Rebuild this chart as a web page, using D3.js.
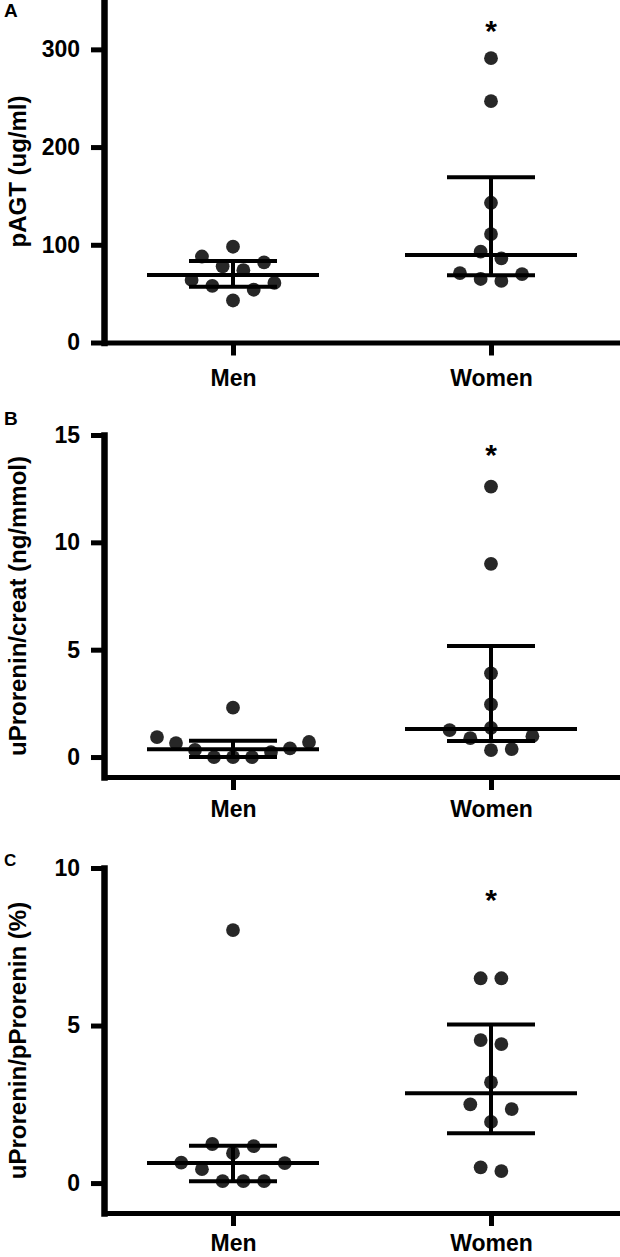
<!DOCTYPE html>
<html>
<head>
<meta charset="utf-8">
<script src="https://cdn.jsdelivr.net/npm/d3@7"></script>
<style>
body { margin: 0; background: #fff; }
text { font-family: "Liberation Sans", Arial, Helvetica, sans-serif; font-weight: bold; fill: #000; }
</style>
</head>
<body>
<script>
// categories and labels
var groups = ["Men", "Women"];
var panelLetters = ["A", "B", "C"];
var yTitles = ["pAGT (ug/ml)", "uProrenin/creat (ng/mmol)", "uProrenin/pProrenin (%)"];

// values
var pagtMen = [98, 88, 82, 78, 74, 64, 61, 58, 54, 43];
var pagtWomen = [291, 247, 143, 111, 93, 86, 71, 70, 65, 63];
var creatMen = [2.3, 0.93, 0.7, 0.65, 0.4, 0.33, 0.23, 0, 0, 0];
var creatWomen = [12.6, 9.0, 3.9, 2.45, 1.36, 1.25, 0.97, 0.88, 0.37, 0.32];
var ratioMen = [8.03, 1.24, 1.17, 0.95, 0.65, 0.63, 0.44, 0.06, 0.06, 0.06];
var ratioWomen = [6.5, 6.5, 4.54, 4.41, 3.2, 2.5, 2.35, 1.94, 0.5, 0.38];

// axis ticks
var ticksA = [0, 100, 200, 300];
var ticksB = [0, 5, 10, 15];
var ticksC = [0, 5, 10];

// where the significance stars sit (data units)
var starValues = [326, 14.4, 9.2];

var width = 620, height = 1257;
var axisX = 104;

var panels = [
  {men: pagtMen, women: pagtWomen, ticks: ticksA, domain: [0, 350], range: [342.5, 0.5], letterY: 17, letterSize: 19, labelPad: 14},
  {men: creatMen, women: creatWomen, ticks: ticksB, domain: [-0.93, 15], range: [777, 435], letterY: 425, letterSize: 19, labelPad: 11},
  {men: ratioMen, women: ratioWomen, ticks: ticksC, domain: [-0.95, 10], range: [1213, 868], letterY: 866, letterSize: 17, labelPad: 9}
];

var svg = d3.select("body").append("svg").attr("width", width).attr("height", height);

var x = d3.scalePoint().domain(groups).range([axisX, width]).padding(0.5);

// quartile the way Prism does it, position (n+1)p
var quant = function(sorted, p) {
  var n = sorted.length, pos = (n + 1) * p;
  if (pos <= 1) return sorted[0];
  if (pos >= n) return sorted[n - 1];
  var i = Math.floor(pos), f = pos - i;
  return sorted[i - 1] + f * (sorted[i] - sorted[i - 1]);
};

// row based scatter layout: points whose y are close share a row
var swarm = function(values, y, cx) {
  var rowH = 21.2, unit = 20.7, maxW = 152;
  var pts = values.map(function(v) { return {v: v, y: y(v)}; });
  var asc = pts.slice().sort(function(a, b) { return a.v - b.v; });
  var rows = [], cur = null;
  asc.forEach(function(p) {
    if (!cur || cur.start - p.y > rowH) { cur = {start: p.y, pts: []}; rows.push(cur); }
    cur.pts.push(p);
  });
  rows.forEach(function(r) {
    var n = r.pts.length;
    var step = n > 1 ? Math.min(unit, maxW / (n - 1)) : 0;
    var order = [];
    var lo = 0, hi = n - 1;
    while (lo <= hi) { order.push(lo); if (hi !== lo) order.push(hi); lo++; hi--; }
    var desc = r.pts.slice().sort(function(a, b) { return b.v - a.v; });
    desc.forEach(function(p, i) { p.x = cx + (order[i] - (n - 1) / 2) * step; });
  });
  return pts;
};

panels.forEach(function(pn, pi) {
  var y = d3.scaleLinear().domain(pn.domain).range(pn.range);
  var g = svg.append("g");

  // y axis
  var ya = g.append("g").attr("transform", "translate(" + axisX + ",0)")
    .call(d3.axisLeft(y).tickValues(pn.ticks).tickSize(13).tickPadding(11).tickSizeOuter(0));
  ya.select(".domain").attr("stroke", "#000").attr("stroke-width", 6.5).attr("stroke-linecap", "square");
  ya.selectAll(".tick line").attr("stroke", "#000").attr("stroke-width", 5);
  ya.selectAll(".tick text").attr("font-size", 23).attr("fill", "#000")
    .style("font-family", "'Liberation Sans', Arial, sans-serif").style("font-weight", "bold");

  // x axis
  var xa = g.append("g").attr("transform", "translate(0," + pn.range[0] + ")")
    .call(d3.axisBottom(x).tickSize(13).tickPadding(pn.labelPad).tickSizeOuter(0));
  xa.select(".domain").attr("stroke", "#000").attr("stroke-width", 5).attr("stroke-linecap", "square");
  xa.selectAll(".tick line").attr("stroke", "#000").attr("stroke-width", 5);
  xa.selectAll(".tick text").attr("font-size", 23).attr("fill", "#000")
    .style("font-family", "'Liberation Sans', Arial, sans-serif").style("font-weight", "bold");

  // panel letter and y title
  g.append("text").attr("x", 4).attr("y", pn.letterY).attr("font-size", pn.letterSize).text(panelLetters[pi]);
  var cy = (pn.range[0] + pn.range[1]) / 2;
  g.append("text").attr("transform", "translate(26," + cy + ") rotate(-90)")
    .attr("text-anchor", "middle").attr("font-size", 24).text(yTitles[pi]);

  [pn.men, pn.women].forEach(function(vals, gi) {
    var cx = x(groups[gi]);
    var pts = swarm(vals, y, cx);
    g.append("g").selectAll("circle").data(pts).enter().append("circle")
      .attr("cx", function(d) { return d.x; })
      .attr("cy", function(d) { return d.y; })
      .attr("r", 6.9)
      .attr("fill", "#272727");

    var s = vals.slice().sort(d3.ascending);
    var med = quant(s, 0.5), q1 = quant(s, 0.25), q3 = quant(s, 0.75);
    var bars = g.append("g").attr("stroke", "#000").attr("stroke-width", 4);
    bars.append("line").attr("x1", cx - 86).attr("x2", cx + 86).attr("y1", y(med)).attr("y2", y(med));
    bars.append("line").attr("x1", cx - 44).attr("x2", cx + 44).attr("y1", y(q1)).attr("y2", y(q1));
    bars.append("line").attr("x1", cx - 44).attr("x2", cx + 44).attr("y1", y(q3)).attr("y2", y(q3));
    bars.append("line").attr("x1", cx).attr("x2", cx).attr("y1", y(q1)).attr("y2", y(q3));
  });

  g.append("text").attr("x", x("Women")).attr("y", y(starValues[pi]) + 17)
    .attr("text-anchor", "middle").attr("font-size", 30).text("*");
});
</script>
</body>
</html>
